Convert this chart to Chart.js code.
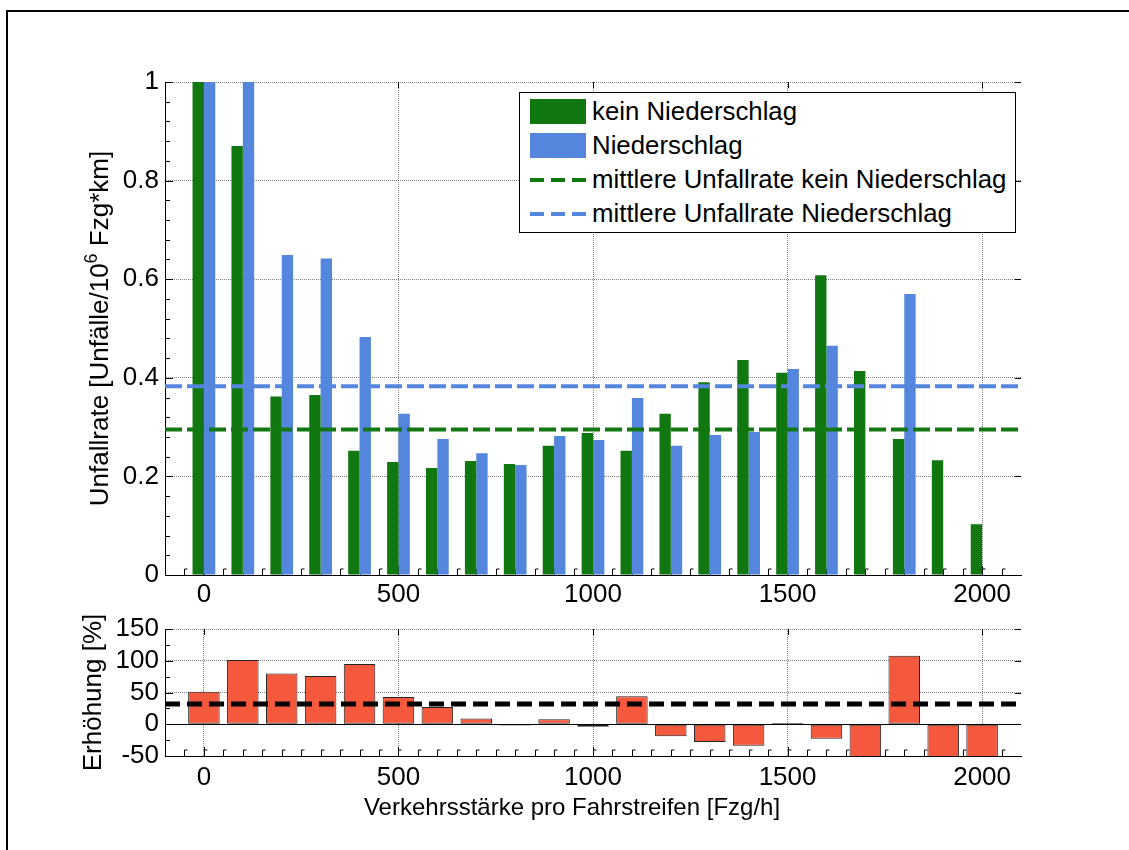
<!DOCTYPE html>
<html>
<head>
<meta charset="utf-8">
<script src="https://cdn.jsdelivr.net/npm/chart.js@4.4.1/dist/chart.umd.min.js"></script>
<style>
  html, body { margin: 0; padding: 0; background: #fff; }
  #page { position: relative; width: 1129px; height: 850px; overflow: hidden; font-family: "Liberation Sans", Arial, sans-serif; }
  #frame { position: absolute; left: 6px; top: 10px; right: -10px; bottom: -10px; border-top: 2px solid #000; border-left: 2px solid #000; }
  #top { position: absolute; left: 0; top: 0; }
  #bot { position: absolute; left: 0; top: 610px; }
  #legend { position: absolute; left: 519px; top: 92px; width: 495px; height: 139px; border: 1px solid #000; background: #fff; font-size: 25.8px; color: #000; }
  .row { position: absolute; left: 10px; height: 34px; display: flex; align-items: center; white-space: nowrap; }
  .sw { width: 56px; margin-right: 6px; }
</style>
</head>
<body>
<div id="page">
  <div id="frame"></div>
  <canvas id="top" width="1129" height="610"></canvas>
  <canvas id="bot" width="1129" height="240"></canvas>
  <div id="legend"></div>
</div>
<script>
// Verkehrsstärke-Klassen (Fzg/h)
const xVals = [0, 100, 200, 300, 400, 500, 600, 700, 800, 900, 1000,
               1100, 1200, 1300, 1400, 1500, 1600, 1700, 1800, 1900, 2000];
// Unfallrate [Unfälle/10^6 Fzg*km]
const keinNiederschlag = [1.15, 0.870, 0.362, 0.365, 0.252, 0.229, 0.217, 0.231, 0.225, 0.262, 0.288,
                          0.252, 0.327, 0.391, 0.436, 0.410, 0.608, 0.414, 0.276, 0.233, 0.103];
const niederschlag = [1.74, 1.75, 0.649, 0.642, 0.483, 0.327, 0.276, 0.247, 0.223, 0.282, 0.274,
                      0.359, 0.262, 0.284, 0.290, 0.418, 0.465, 0, 0.570, 0, 0];
// Erhöhung [%]
const erhoehung = [51, 101, 80, 76, 95, 43, 27, 9, -2, 8, -4,
                   44, -19, -28, -34, 2, -23, -100, 108, -100, -100];
const mittelKein = 0.295;
const mittelNieder = 0.383;
const mittelErhoehung = 32;

const xRange = [-100, 2100];
const xTicks = [0, 500, 1000, 1500, 2000];
const yTicksTop = [0, 0.2, 0.4, 0.6, 0.8, 1];
const yTicksBot = [-50, 0, 50, 100, 150];

const GREEN = '#117711';
const BLUE = '#5586dd';
const RED = '#f5593d';
const FONT = '"Liberation Sans", Arial, sans-serif';
const GRID = 'rgba(0,0,0,0.5)';

const pts = ys => xVals.map((x, i) => ({ x, y: ys[i] }));
const flat = v => xRange.map(x => ({ x, y: v }));

function fixTicks(list) {
  return s => { s.ticks = list.map(v => ({ value: v })); };
}

function decorate(chart, o) {
  const { ctx, chartArea: a, scales: { x, y } } = chart;
  ctx.save();
  ctx.strokeStyle = '#000';
  ctx.lineWidth = 1;
  ctx.beginPath();
  const ny = Math.round((y.max - y.min) / o.yMinor);
  for (let i = 0; i <= ny; i++) {
    const v = y.min + i * o.yMinor;
    const py = Math.round(y.getPixelForValue(v)) + 0.5;
    ctx.moveTo(a.left, py); ctx.lineTo(a.left + 5, py);
  }
  o.yMajor.forEach(v => {
    const py = Math.round(y.getPixelForValue(v)) + 0.5;
    ctx.moveTo(a.left, py); ctx.lineTo(a.left + 8, py);
    ctx.moveTo(a.right, py); ctx.lineTo(a.right - 6, py);
  });
  const nx = Math.round((x.max - x.min) / 50);
  for (let i = 1; i < nx; i++) {
    const v = x.min + i * 50;
    const px = Math.round(x.getPixelForValue(v)) + 0.5;
    ctx.moveTo(px, a.bottom); ctx.lineTo(px, a.bottom - 6); ctx.lineTo(px + 3, a.bottom - 6);
  }
  xTicks.forEach(v => {
    const px = Math.round(x.getPixelForValue(v)) + 0.5;
    ctx.moveTo(px, a.bottom); ctx.lineTo(px, a.bottom - 9);
    ctx.moveTo(px, a.top); ctx.lineTo(px, a.top + 6);
  });
  if (o.zeroLine) {
    const pz = Math.round(y.getPixelForValue(0)) + 0.5;
    ctx.moveTo(a.left, pz); ctx.lineTo(a.right, pz);
  }
  ctx.stroke();
  ctx.restore();
}

function yTitle(chart, parts, bx, size) {
  const { ctx, chartArea: a } = chart;
  ctx.save();
  ctx.translate(bx, (a.top + a.bottom) / 2);
  ctx.rotate(-Math.PI / 2);
  ctx.fillStyle = '#000';
  ctx.textAlign = 'left';
  ctx.textBaseline = 'alphabetic';
  const fontOf = p => (p.sup ? Math.round(size * 0.68) : size) + 'px ' + FONT;
  const widths = parts.map(p => { ctx.font = fontOf(p); return ctx.measureText(p.t).width; });
  let pos = -widths.reduce((s, w) => s + w, 0) / 2;
  parts.forEach((p, i) => {
    ctx.font = fontOf(p);
    ctx.fillText(p.t, pos, p.sup ? -size * 0.42 : 0);
    pos += widths[i];
  });
  ctx.restore();
}

const tickFont = { family: FONT, size: 26, lineHeight: 1 };

function xScale(padding, height) {
  return {
    type: 'linear', min: xRange[0], max: xRange[1], offset: false,
    afterBuildTicks: fixTicks(xTicks),
    afterFit: s => { s.height = height; },
    grid: { color: GRID, lineWidth: 1, drawTicks: false, offset: false },
    border: { display: true, color: '#000', width: 1, dash: [1, 1] },
    ticks: { font: tickFont, color: '#000', padding, maxRotation: 0, callback: v => String(v) }
  };
}

function yScale(min, max, list) {
  return {
    min, max,
    afterBuildTicks: fixTicks(list),
    afterFit: s => { s.width = 165; },
    grid: { color: GRID, lineWidth: 1, drawTicks: false },
    border: { display: true, color: '#000', width: 1, dash: [1, 1] },
    ticks: { font: tickFont, color: '#000', padding: 6, callback: v => String(v) }
  };
}

const topChart = new Chart(document.getElementById('top'), {
  type: 'bar',
  data: {
    datasets: [
      { label: 'kein Niederschlag', data: pts(keinNiederschlag), backgroundColor: GREEN,
        categoryPercentage: 0.584, barPercentage: 1, order: 2 },
      { label: 'Niederschlag', data: pts(niederschlag), backgroundColor: BLUE,
        categoryPercentage: 0.584, barPercentage: 1, order: 2 },
      { type: 'line', label: 'mittlere Unfallrate kein Niederschlag', data: flat(mittelKein),
        borderColor: GREEN, borderWidth: 4, borderDash: [17, 5], pointRadius: 0, fill: false, order: 1 },
      { type: 'line', label: 'mittlere Unfallrate Niederschlag', data: flat(mittelNieder),
        borderColor: BLUE, borderWidth: 4, borderDash: [17, 5], pointRadius: 0, fill: false, order: 1 }
    ]
  },
  options: {
    responsive: false, animation: false,
    layout: { padding: { top: 82, right: 108, left: 0, bottom: 0 } },
    plugins: { legend: { display: false }, tooltip: { enabled: false } },
    scales: { x: xScale(7, 35), y: yScale(0, 1, yTicksTop) }
  },
  plugins: [{
    id: 'decorTop',
    beforeDatasetsDraw: c => decorate(c, { yMinor: 0.04, yMajor: yTicksTop }),
    afterDraw: c => yTitle(c, [{ t: 'Unfallrate [Unfälle/10' }, { t: '6', sup: true }, { t: ' Fzg*km]' }], 108, 26)
  }]
});

new Chart(document.getElementById('bot'), {
  type: 'bar',
  data: {
    datasets: [
      { label: 'Erhöhung', data: pts(erhoehung), backgroundColor: RED, borderColor: '#222',
        borderWidth: 1, borderSkipped: false, categoryPercentage: 1, barPercentage: 0.81, order: 2 },
      { type: 'line', label: 'mittlere Erhöhung', data: flat(mittelErhoehung), borderColor: '#000',
        borderWidth: 5, borderDash: [15, 7], pointRadius: 0, fill: false, order: 1 }
    ]
  },
  options: {
    responsive: false, animation: false,
    layout: { padding: { top: 15, right: 108, left: 0, bottom: 0 } },
    plugins: { legend: { display: false }, tooltip: { enabled: false } },
    scales: { x: xScale(9, 94), y: yScale(-50, 150, yTicksBot) }
  },
  plugins: [{
    id: 'decorBot',
    beforeDatasetsDraw: c => decorate(c, { yMinor: 25, yMajor: yTicksBot, zeroLine: true }),
    afterDraw: c => {
      yTitle(c, [{ t: 'Erhöhung [%]' }], 101, 26);
      const { ctx } = c;
      ctx.save();
      ctx.font = '24px ' + FONT;
      ctx.fillStyle = '#000';
      ctx.textAlign = 'center';
      ctx.textBaseline = 'alphabetic';
      ctx.fillText('Verkehrsstärke pro Fahrstreifen [Fzg/h]', 572, 205);
      ctx.restore();
    }
  }]
});

// Legende aus den Datensätzen des oberen Diagramms
const legend = document.getElementById('legend');
topChart.data.datasets.forEach((ds, i) => {
  const row = document.createElement('div');
  row.className = 'row';
  row.style.top = (1.5 + i * 34) + 'px';
  const sw = document.createElement('div');
  sw.className = 'sw';
  const col = ds.type === 'line' ? ds.borderColor : ds.backgroundColor;
  if (ds.type === 'line') {
    sw.style.height = '4px';
    sw.style.background = `repeating-linear-gradient(90deg, ${col} 0 14px, transparent 14px 21px)`;
  } else {
    sw.style.height = '25px';
    sw.style.background = col;
  }
  const tx = document.createElement('span');
  tx.textContent = ds.label;
  row.appendChild(sw);
  row.appendChild(tx);
  legend.appendChild(row);
});
</script>
</body>
</html>
